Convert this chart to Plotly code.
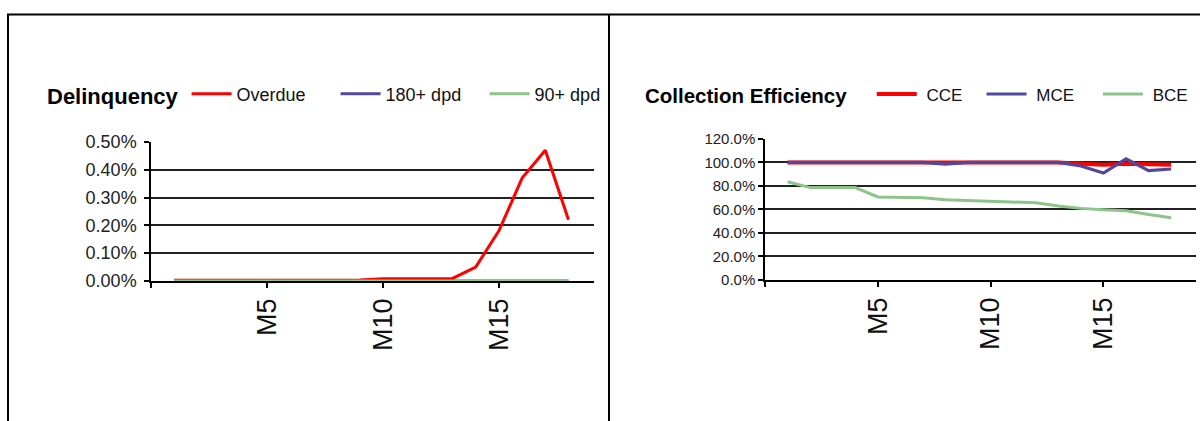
import plotly.graph_objects as go

# Months on book
months = ["M%d" % i for i in range(1, 19)]
month_idx = list(range(1, 19))

# Delinquency (share of portfolio)
overdue = [0.00002, 0.00002, 0.00002, 0.00002, 0.00002, 0.00002, 0.00002, 0.00002, 0.00003,
           0.00008, 0.00009, 0.00009, 0.00009, 0.0005, 0.0018, 0.0037, 0.0047, 0.0022]
dpd180 = [0.0] * 18
dpd90 = [0.0] * 18

# Collection efficiency
cce = [1.0, 1.0, 1.0, 1.0, 1.0, 1.0, 1.0, 1.0, 1.0,
       1.0, 1.0, 1.0, 1.0, 0.988, 0.98, 0.988, 0.982, 0.98]
mce = [1.0, 1.0, 1.0, 1.0, 1.0, 1.0, 1.0, 0.985, 1.0,
       1.0, 1.0, 1.0, 1.0, 0.97, 0.91, 1.03, 0.93, 0.944]
bce = [0.835, 0.786, 0.786, 0.786, 0.706, 0.706, 0.70, 0.683, 0.677,
       0.669, 0.663, 0.657, 0.629, 0.609, 0.597, 0.589, 0.557, 0.529]

# Axis tick labels
tick_pos = [0, 5, 10, 15]
tick_txt = ["", "M5", "M10", "M15"]

RED = "#FF0000"
BLUE = "#52479E"
GREEN = "#8DC48A"
W, H = 1200, 441
SANS = "Liberation Sans, Arial, sans-serif"
NB = "\u00a0"

fig = go.Figure()

for name, vals, col, wid in [("Overdue", overdue, RED, 3),
                             ("180+ dpd", dpd180, BLUE, 3),
                             ("90+ dpd", dpd90, GREEN, 3)]:
    fig.add_trace(go.Scatter(x=month_idx, y=vals, name=name, mode="lines",
                             line=dict(color=col, width=wid),
                             xaxis="x", yaxis="y", legend="legend",
                             text=months, hovertemplate="%{text}: %{y:.2%}<extra></extra>"))

# legend labels of the right panel carry a little padding for spacing
for name, pad, vals, col, wid in [("CCE", 3, cce, RED, 4),
                                  ("MCE", 4, mce, BLUE, 3.2),
                                  ("BCE", 0, bce, GREEN, 3)]:
    fig.add_trace(go.Scatter(x=month_idx, y=vals, name=NB + name + NB * pad, mode="lines",
                             line=dict(color=col, width=wid),
                             xaxis="x2", yaxis="y2", legend="legend2",
                             text=months, hovertemplate=name + " %{text}: %{y:.1%}<extra></extra>"))

def px_x(p):
    return p / W

def px_y(p):
    # vertical placement in page pixels (8px page offset, 0.955 vertical scale)
    f = (p - 8) / 0.955
    return (H - f) / H

xcommon = dict(range=[0, 19.1], tickmode="array", tickvals=tick_pos, ticktext=tick_txt,
               tickangle=-90, ticks="outside", ticklen=5, tickwidth=1.5, tickcolor="#000",
               showline=True, linecolor="#000", linewidth=1.5, showgrid=False,
               zeroline=False, fixedrange=True,
               tickfont=dict(family=SANS, size=27, color="#111"))
ycommon = dict(ticks="outside", ticklen=5, tickwidth=1.5, tickcolor="#000",
               showline=True, linecolor="#000", linewidth=1.5,
               showgrid=True, gridcolor="#222", gridwidth=1.6, zeroline=False, fixedrange=True)

fig.update_layout(
    width=W, height=H,
    margin=dict(l=0, r=0, t=0, b=0),
    paper_bgcolor="white", plot_bgcolor="white",
    xaxis=dict(domain=[px_x(151), px_x(594)], anchor="y", **xcommon),
    yaxis=dict(domain=[px_y(279), px_y(140)], anchor="x", range=[0, 0.005], dtick=0.001,
               tickformat=".2%", ticklabelstandoff=4,
               tickfont=dict(family=SANS, size=18, color="#222"),
               **ycommon),
    xaxis2=dict(domain=[px_x(765), px_x(1196)], anchor="y2", **xcommon),
    yaxis2=dict(domain=[px_y(278), px_y(137)], anchor="x2", range=[0, 1.2], dtick=0.2,
                tickformat=".1%", ticklabelstandoff=0,
                tickfont=dict(family="Liberation Sans Narrow, Liberation Sans, Arial, sans-serif",
                              size=15, color="#222"),
                **ycommon),
    legend=dict(orientation="h", x=px_x(45), xanchor="left", y=px_y(93), yanchor="middle",
                itemwidth=40, entrywidth=94, bgcolor="rgba(0,0,0,0)",
                font=dict(family=SANS, size=18, color="#111"),
                title=dict(text="<b>Delinquency</b>", side="left",
                           font=dict(family=SANS, size=22, color="#000"))),
    legend2=dict(orientation="h", x=px_x(643), xanchor="left", y=px_y(93), yanchor="middle",
                 itemwidth=40, bgcolor="rgba(0,0,0,0)",
                 font=dict(family=SANS, size=17, color="#111"),
                 title=dict(text="<b>Collection Efficiency</b>" + NB * 3, side="left",
                            font=dict(family=SANS, size=20.5, color="#000"))),
    showlegend=True,
)

# Frame around the two chart panels
frame = dict(type="line", xref="paper", yref="paper", line=dict(color="#000", width=2))
fig.add_shape(x0=px_x(7), x1=1, y0=px_y(12.5), y1=px_y(12.5), **frame)
fig.add_shape(x0=px_x(8), x1=px_x(8), y0=0, y1=px_y(12.5), **frame)
fig.add_shape(x0=px_x(609), x1=px_x(609), y0=0, y1=px_y(12.5), **frame)

fig.write_html("out.html")
